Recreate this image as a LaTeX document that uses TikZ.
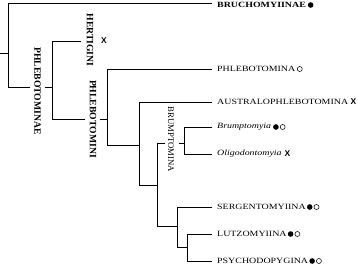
\documentclass[tikz,border=0pt]{standalone}
\usepackage{fontspec}
\setmainfont{Liberation Serif}
\newfontfamily\hfont[FakeStretch=1.24]{Liberation Serif}
\newfontfamily\xfont{Liberation Sans}
\usetikzlibrary{positioning}
\begin{document}
\begin{tikzpicture}[x=1pt,y=-1pt,
  br/.style={line width=0.85pt, line cap=rect},
  hl/.style={anchor=west, inner sep=0pt, font=\hfont\fontsize{8}{9}\selectfont},
  vl/.style={rotate=-90, inner sep=0pt, font=\fontsize{9.7}{10}\selectfont\bfseries},
  fdot/.style={circle, fill=black, minimum size=5.6pt, inner sep=0pt},
  odot/.style={circle, draw=black, line width=0.55pt, minimum size=5pt, inner sep=0pt},
  xm/.style={inner sep=0pt, font=\xfont\fontsize{8.4}{9}\selectfont\bfseries}]
\useasboundingbox (0,0) rectangle (358,267);

% coordinates
\coordinate (r0) at (0,53);
\coordinate (r1) at (8,53);
\coordinate (rT) at (8,3);
\coordinate (rB) at (8,87);
\coordinate (eBru) at (212,3);
\coordinate (aL) at (30,87);
\coordinate (aR) at (45,87);
\coordinate (bM) at (52,87);
\coordinate (bT) at (52,41);
\coordinate (bB) at (52,119);
\coordinate (hE) at (81,41);
\coordinate (pL) at (85,119);
\coordinate (pR) at (100,119);
\coordinate (cM) at (107,119);
\coordinate (cT) at (107,69);
\coordinate (cB) at (107,145);
\coordinate (ePhl) at (212,69);
\coordinate (dM) at (139,145);
\coordinate (dT) at (139,102);
\coordinate (dB) at (139,185);
\coordinate (eAus) at (212,102);
\coordinate (fM) at (157,185);
\coordinate (fT) at (157,143);
\coordinate (fB) at (157,226);
\coordinate (fL) at (165,143);
\coordinate (gR) at (179,143);
\coordinate (gM) at (184,143);
\coordinate (gT) at (184,127);
\coordinate (gB) at (184,154);
\coordinate (eBrm) at (212,127);
\coordinate (eOli) at (212,154);
\coordinate (hM) at (177,226);
\coordinate (hT) at (177,207);
\coordinate (hB) at (177,247);
\coordinate (eSer) at (212,207);
\coordinate (iM) at (187,247);
\coordinate (iT) at (187,234);
\coordinate (iB) at (187,261);
\coordinate (eLut) at (212,234);
\coordinate (ePsy) at (212,261);

% branches
\draw[br] (r0) -- (r1);
\draw[br] (eBru) -- (rT) -- (rB) -- (aL);
\draw[br] (aR) -- (bM);
\draw[br] (hE) -- (bT) -- (bB) -- (pL);
\draw[br] (pR) -- (cM);
\draw[br] (ePhl) -- (cT) -- (cB) -- (dM);
\draw[br] (eAus) -- (dT) -- (dB) -- (fM);
\draw[br] (fL) -- (fT) -- (fB) -- (hM);
\draw[br] (gR) -- (gM);
\draw[br] (eBrm) -- (gT) -- (gB) -- (eOli);
\draw[br] (eSer) -- (hT) -- (hB) -- (iM);
\draw[br] (eLut) -- (iT) -- (iB) -- (ePsy);

% vertical labels
\node[vl] (tPhae) at (37.5,91) {PHLEBOTOMINAE};
\node[vl] (tHer) at (90,40) {HERTIGINI};
\node[vl] (tPhi) at (93,119) {PHLEBOTOMINI};
\node[vl, font=\fontsize{8.7}{9}\selectfont] (tBrm) at (171,139.5) {BRUMPTOMINA};
\node[xm] (mHer) at (104,41) {X};

% terminal labels
\node[hl, font=\hfont\fontsize{8}{9}\selectfont\bfseries] (tBru) at (217,5) {BRUCHOMYIINAE};
\node[fdot, right=1.5pt of tBru] (mBru) {};

\node[hl] (tPhl) at (217,69) {PHLEBOTOMINA};
\node[odot, right=1.5pt of tPhl] (mPhl) {};

\node[hl] (tAus) at (217,102) {AUSTRALOPHLEBOTOMINA};
\node[xm, right=2pt of tAus] (mAus) {X};

\node[hl, font=\hfont\fontsize{8}{9}\selectfont\itshape] (tBrmy) at (217,127) {Brumptomyia};
\node[fdot, right=1.5pt of tBrmy] (mBrmy1) {};
\node[odot, right=1pt of mBrmy1] (mBrmy2) {};

\node[hl, font=\hfont\fontsize{8}{9}\selectfont\itshape] (tOli) at (217,154) {Oligodontomyia};
\node[xm, right=2.5pt of tOli] (mOli) {X};

\node[hl] (tSer) at (217,207) {SERGENTOMYIINA};
\node[fdot, right=0.8pt of tSer] (mSer1) {};
\node[odot, right=1pt of mSer1] (mSer2) {};

\node[hl] (tLut) at (217,234) {LUTZOMYIINA};
\node[fdot, right=0.8pt of tLut] (mLut1) {};
\node[odot, right=1pt of mLut1] (mLut2) {};

\node[hl] (tPsy) at (217,261) {PSYCHODOPYGINA};
\node[fdot, right=0.8pt of tPsy] (mPsy1) {};
\node[odot, right=1pt of mPsy1] (mPsy2) {};
\end{tikzpicture}
\end{document}
